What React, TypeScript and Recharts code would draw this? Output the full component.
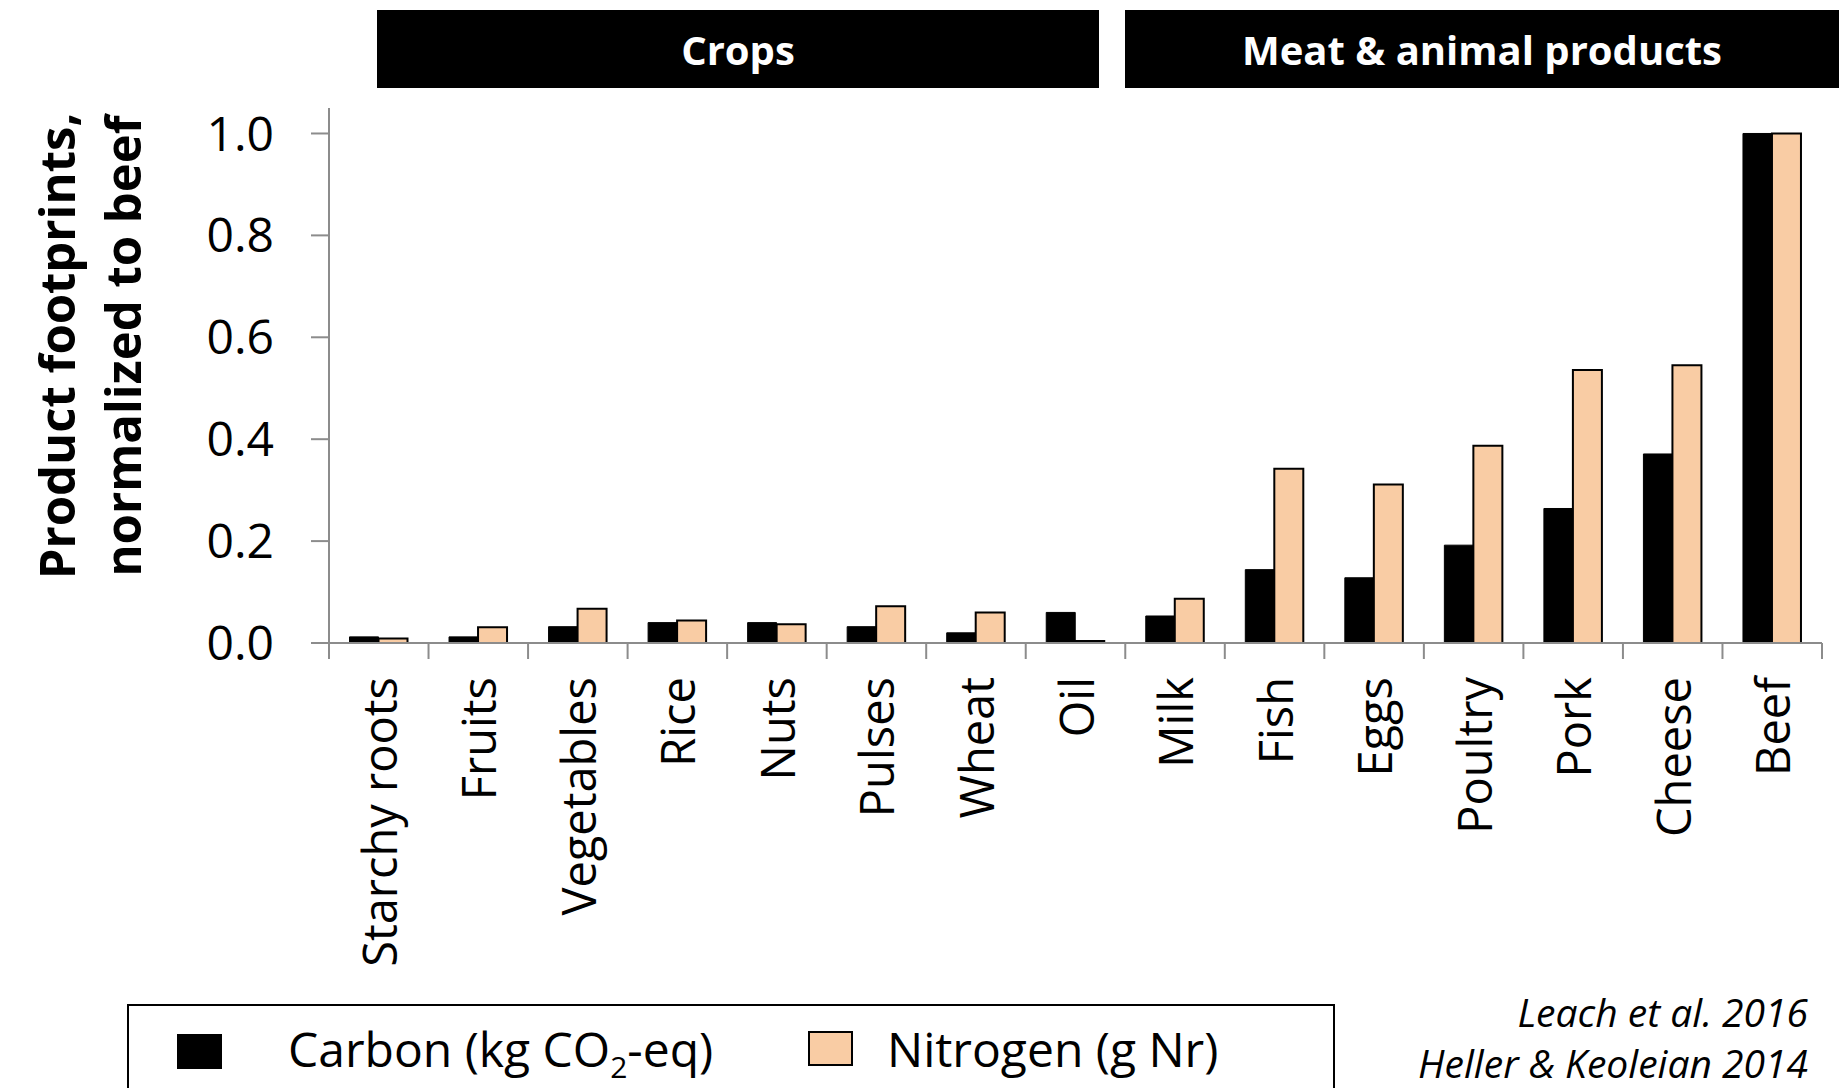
import { Bar, BarChart, XAxis, YAxis } from 'recharts';

const categories = [
  'Starchy roots', 'Fruits', 'Vegetables', 'Rice', 'Nuts', 'Pulses', 'Wheat', 'Oil',
  'Milk', 'Fish', 'Eggs', 'Poultry', 'Pork', 'Cheese', 'Beef',
];
const carbon = [0.012, 0.012, 0.032, 0.04, 0.04, 0.032, 0.02, 0.06, 0.053, 0.144, 0.128, 0.192, 0.264, 0.371, 1.0];
const nitrogen = [0.009, 0.031, 0.067, 0.044, 0.037, 0.072, 0.06, 0.004, 0.087, 0.342, 0.311, 0.387, 0.536, 0.545, 1.0];
const yTicks = [0, 0.2, 0.4, 0.6, 0.8, 1.0];
const groupLabels = ['Crops', 'Meat & animal products'];
const credits = ['Leach et al. 2016', 'Heller & Keoleian 2014'];

const data = categories.map((name, i) => ({ name, carbon: carbon[i], nitrogen: nitrogen[i] }));

const W = 1841;
const H = 1088;
const PLOT_LEFT = 329;
const PLOT_RIGHT = 19;
const PLOT_TOP = 108;
const X_AXIS_H = 445;
const BAND = (W - PLOT_LEFT - PLOT_RIGHT) / categories.length;
const FONT = '"Open Sans", "Noto Sans", sans-serif';
const AXIS_GREY = '#8c8c8c';
const PEACH = '#F9CCA4';

const CategoryTick = (props: any) => {
  const { x, y, payload, index } = props;
  const half = BAND / 2;
  const ty = y + 34;
  return (
    <g>
      <line x1={x - half} x2={x - half} y1={y} y2={y + 16} stroke={AXIS_GREY} strokeWidth={2} />
      {index === categories.length - 1 && (
        <line x1={x + half} x2={x + half} y1={y} y2={y + 16} stroke={AXIS_GREY} strokeWidth={2} />
      )}
      <text
        x={x}
        y={ty}
        transform={`rotate(-90, ${x}, ${ty})`}
        textAnchor="end"
        dominantBaseline="central"
        fontSize={47}
        fontFamily={FONT}
        fill="#000"
      >
        {payload.value}
      </text>
    </g>
  );
};

const headerBox = (left: number, width: number, label: string) => (
  <div
    key={label}
    style={{
      position: 'absolute', left, top: 10, width, height: 78, background: '#000', color: '#fff',
      display: 'flex', alignItems: 'center', justifyContent: 'center',
      fontFamily: FONT, fontWeight: 700, fontSize: 40,
    }}
  >
    {label}
  </div>
);

const swatch = (bg: string, border: string) => (
  <span style={{ display: 'inline-block', width: 45, height: 35, background: bg, border, boxSizing: 'border-box' }} />
);

export default function App() {
  return (
    <div style={{ position: 'absolute', left: 0, top: 0, width: W, height: H, overflow: 'hidden', background: '#fff' }}>
      {headerBox(377, 722, groupLabels[0])}
      {headerBox(1125, 714, groupLabels[1])}

      <BarChart
        width={W}
        height={H}
        data={data}
        margin={{ top: PLOT_TOP, right: PLOT_RIGHT, bottom: 0, left: 0 }}
        barCategoryGap="20.6%"
        barGap={0}
      >
        <XAxis
          dataKey="name"
          height={X_AXIS_H}
          interval={0}
          tickLine={false}
          tickSize={0}
          tickMargin={0}
          axisLine={{ stroke: AXIS_GREY, strokeWidth: 2 }}
          tick={<CategoryTick />}
        />
        <YAxis
          width={PLOT_LEFT}
          domain={[0, 1.05]}
          ticks={yTicks}
          tickFormatter={(v: number) => v.toFixed(1)}
          tickSize={18}
          tickMargin={37}
          axisLine={{ stroke: AXIS_GREY, strokeWidth: 2 }}
          tickLine={{ stroke: AXIS_GREY, strokeWidth: 2 }}
          tick={{ fontSize: 48, fontFamily: FONT, fill: '#000' }}
        />
        <Bar dataKey="carbon" fill="#000" stroke="#000" strokeWidth={1} isAnimationActive={false} />
        <Bar dataKey="nitrogen" fill={PEACH} stroke="#000" strokeWidth={2} isAnimationActive={false} />
      </BarChart>

      <svg style={{ position: 'absolute', left: 0, top: 0 }} width={200} height={700}>
        <text
          transform="translate(56, 346) rotate(-90)"
          textAnchor="middle"
          dominantBaseline="central"
          fontFamily={FONT}
          fontWeight={700}
          fontSize={49}
        >
          Product footprints,
        </text>
        <text
          transform="translate(122, 346) rotate(-90)"
          textAnchor="middle"
          dominantBaseline="central"
          fontFamily={FONT}
          fontWeight={700}
          fontSize={49}
        >
          normalized to beef
        </text>
      </svg>

      <div
        style={{
          position: 'absolute', left: 127, top: 1004, width: 1208, height: 120,
          border: '2px solid #000', boxSizing: 'border-box', fontFamily: FONT, fontSize: 48,
        }}
      >
        <div style={{ position: 'absolute', left: 48, top: 10, display: 'flex', alignItems: 'center', gap: 66 }}>
          {swatch('#000', '2px solid #000')}
          <span>Carbon (kg CO<sub style={{ fontSize: 30 }}>2</sub>-eq)</span>
        </div>
        <div style={{ position: 'absolute', left: 679, top: 10, display: 'flex', alignItems: 'center', gap: 34 }}>
          {swatch(PEACH, '2px solid #000')}
          <span>Nitrogen (g Nr)</span>
        </div>
      </div>

      <div
        style={{
          position: 'absolute', right: W - 1808, top: 986, textAlign: 'right',
          fontFamily: FONT, fontStyle: 'italic', fontSize: 39, lineHeight: '51px',
        }}
      >
        <div>{credits[0]}</div>
        <div>{credits[1]}</div>
      </div>
    </div>
  );
}
